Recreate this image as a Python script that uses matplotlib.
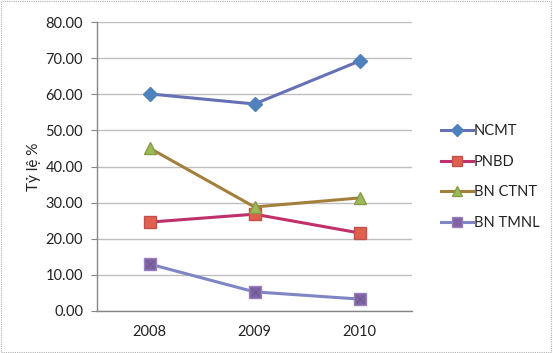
import matplotlib

matplotlib.use("Agg")

import matplotlib.pyplot as plt
from matplotlib.patches import Rectangle

years = ["2008", "2009", "2010"]
series_names = ["NCMT", "PNBD", "BN CTNT", "BN TMNL"]
ncmt = [60.1, 57.3, 69.2]
pnbd = [24.6, 26.8, 21.6]
bn_ctnt = [45.1, 28.8, 31.3]
bn_tmnl = [13.0, 5.3, 3.3]
y_ticks = [0, 10, 20, 30, 40, 50, 60, 70, 80]

LINE_COLORS = ["#6670b4", "#c0306a", "#a37f3c", "#7f86c4"]
MARKER_FACE = ["#4f81bd", "#e0604e", "#9bbb59", "#8064a2"]
MARKER_EDGE = ["#4f81bd", "#c0504d", "#8a9a48", "#9a80c0"]
MARKERS = ["D", "s", "^", "s"]
SIZES = [7, 8, 8, 8]

GRID = "#bfbfbf"
AXIS = "#868686"
TEXT = "#222222"

plt.rcParams["font.family"] = ["Lato", "DejaVu Sans"]

fig = plt.figure(figsize=(5.53, 3.53), dpi=100)
fig.patch.set_facecolor("white")
ax = fig.add_axes([97 / 553, 1 - 311 / 353, 315 / 553, 289 / 353])

x = list(range(len(years)))
handles = []
for i, vals in enumerate([ncmt, pnbd, bn_ctnt, bn_tmnl]):
    (h,) = ax.plot(
        x,
        vals,
        color=LINE_COLORS[i],
        linewidth=2.2,
        marker=MARKERS[i],
        markersize=SIZES[i],
        markerfacecolor=MARKER_FACE[i],
        markeredgecolor=MARKER_EDGE[i],
        markeredgewidth=1.0,
        label=series_names[i],
        zorder=3 + i,
    )
    handles.append(h)
    if i == 3:
        ax.plot(x, vals, linestyle="none", marker="x", markersize=6,
                color="#6a5a9a", markeredgewidth=0.8, zorder=8)

ax.set_xlim(-0.5, 2.5)
ax.set_ylim(0, 80)
ax.set_xticks(x)
ax.set_xticklabels(years)
ax.set_yticks(y_ticks)
ax.set_yticklabels([f"{v:.2f}" for v in y_ticks])
ax.grid(axis="y", color=GRID, linewidth=1.0)
ax.set_axisbelow(True)
for side in ("top", "right"):
    ax.spines[side].set_visible(False)
for side in ("left", "bottom"):
    ax.spines[side].set_color(AXIS)
    ax.spines[side].set_linewidth(1.0)
ax.tick_params(axis="y", colors=AXIS, labelcolor=TEXT, labelsize=10.5, length=4, pad=6)
ax.tick_params(axis="x", length=0, labelcolor=TEXT, labelsize=10.5, pad=10)
ax.set_ylabel("Tỷ lệ %", fontsize=11, color=TEXT, labelpad=3)

fig.legend(
    handles=handles,
    loc="center left",
    bbox_to_anchor=(428 / 553, 1 - 177 / 353),
    frameon=False,
    fontsize=10.5,
    labelcolor=TEXT,
    handlelength=2.2,
    handletextpad=0.05,
    labelspacing=1.15,
    markerscale=0.85,
)

fig.patches.append(
    Rectangle((0.002, 0.003), 0.995, 0.994, transform=fig.transFigure,
              fill=False, edgecolor="#b0b0b0", linewidth=0.8, linestyle=(0, (1, 1)))
)

fig.savefig("out.png", dpi=100, facecolor="white")
